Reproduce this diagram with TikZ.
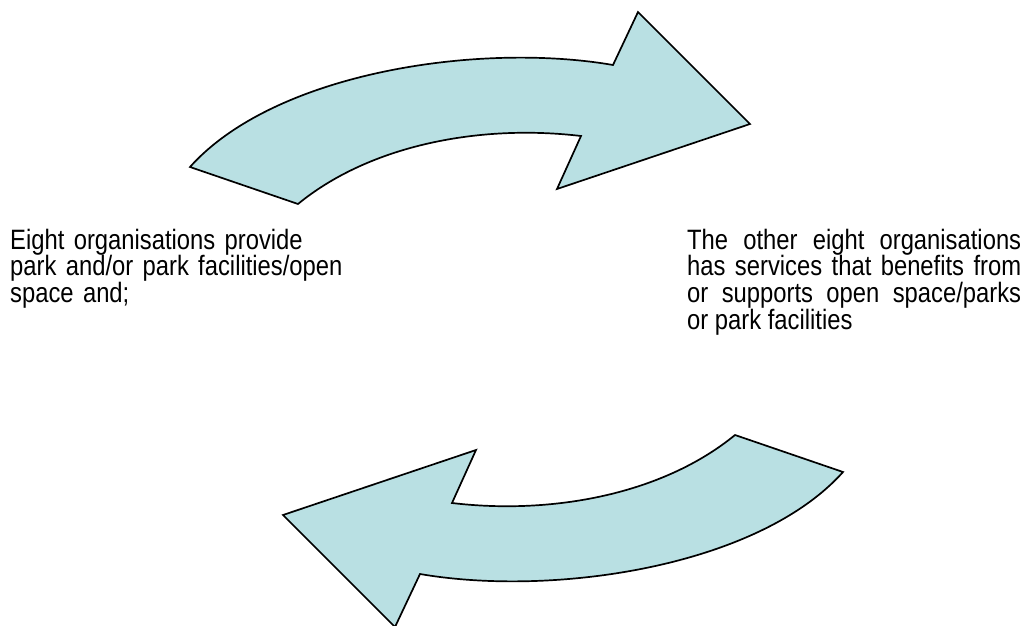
\documentclass[tikz,border=0pt]{standalone}
\usepackage{fontspec}
\setmainfont{Liberation Sans}[FakeStretch=0.85]
\usepackage{tikz}
\definecolor{arrowfill}{HTML}{B9E0E3}

% one bent block arrow, in pixel units (y grows downwards)
\newcommand{\bentarrow}{(190,167) .. controls (275,72) and (480,42) .. (613,65)
  -- (638,12) -- (750,124) -- (557,189) -- (581,136)
  .. controls (480,124) and (370,145) .. (298,204) -- cycle}

\tikzset{
  blockarrow/.style={draw=black, line width=1.7pt, line join=miter, fill=arrowfill},
  note/.style={inner sep=0pt, font=\fontsize{28}{26.7}\selectfont}
}

\begin{document}
\begin{tikzpicture}[x=1pt, y=-1pt]%
\useasboundingbox (0,0) rectangle (1031,626);%
\draw[blockarrow] \bentarrow;%
\draw[blockarrow, rotate around={180:(516.5,319.5)}] \bentarrow;%
\node[note, anchor=base west, text width=340pt, align=left] (provide) at (10,249)
  {Eight organisations provide\\park and/or park facilities/open\\space and;};%
\node[note, anchor=base west, text width=334pt, align=justify] (support) at (687,249)
  {The other eight organisations\linebreak has services that benefits from\linebreak or supports open space/parks\linebreak or park facilities};%
\end{tikzpicture}
\end{document}
